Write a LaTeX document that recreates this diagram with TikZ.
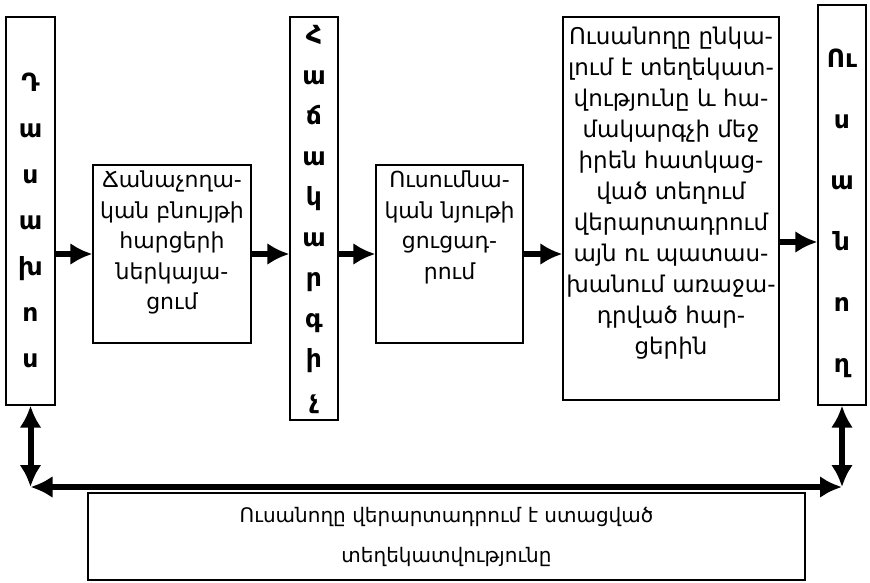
\documentclass[tikz,border=0pt]{standalone}
\usepackage{fontspec}
\setmainfont{DejaVu Sans}
\usepackage{tikz}
\usetikzlibrary{arrows.meta,positioning}
\tikzset{
  box/.style={draw,line width=1.2pt,inner sep=0pt},
  txt/.style={align=center,font=\fontsize{22}{30.5}\selectfont},
  col/.style={align=center,font=\bfseries\fontsize{25}{#1}\selectfont},
  tip/.style={-{Latex[length=22pt,width=22pt]}},
  flow/.style={tip,line width=6pt},
  both/.style={{Latex[length=22pt,width=22pt]}-{Latex[length=22pt,width=22pt]},line width=6pt}
}

\begin{document}
\begin{tikzpicture}[x=1pt,y=-1pt]
            \useasboundingbox (0,0) rectangle (870,582);
            % columns
            \node[box,minimum width=49pt,minimum height=388pt] (lect) at (30.5,211) {};
            \node[col=46,yshift=-9pt] (lecttxt) at (lect.center) {Դ\\ա\\ս\\ա\\խ\\ո\\ս};
            \node[box,minimum width=48pt,minimum height=403pt] (pc) at (314,218.5) {};
            \node[col=40.5,yshift=-1pt] (pctxt) at (pc.center) {Հ\\ա\\ճ\\ա\\կ\\ա\\ր\\գ\\ի\\չ};
            \node[box,minimum width=48pt,minimum height=400pt] (stud) at (842,205) {};
            \node[col=61,yshift=-8pt] (studtxt) at (stud.center) {Ու\\ս\\ա\\ն\\ո\\ղ};
            % boxes
            \node[box,minimum width=158pt,minimum height=178pt] (quest) at (172,254) {};
            \node[txt,below=3pt of quest.north] (questtxt) {Ճանաչողա-\\կան բնույթի\\հարցերի\\ներկայա-\\ցում};
            \node[box,minimum width=147pt,minimum height=178pt] (demo) at (449.5,254) {};
            \node[txt,below=3pt of demo.north] (demotxt) {Ուսումնա-\\կան նյութի\\ցուցադ-\\րում};
            \node[box,minimum width=216pt,minimum height=383pt] (recv) at (671,208.5) {};
            \node[txt,font=\fontsize{23}{31}\selectfont,yshift=15pt] (recvtxt) at (recv.center) {Ուսանողը ընկա-\\լում է տեղեկատ-\\վությունը և հա-\\մակարգչի մեջ\\իրեն հատկաց-\\ված տեղում\\վերարտադրում\\այն ու պատաս-\\խանում առաջա-\\դրված հար-\\ցերին};
            \node[box,txt,font=\fontsize{20}{40}\selectfont,minimum width=717pt,minimum height=87pt] (repro) at (446.5,536.5) {Ուսանողը վերարտադրում է ստացված\\տեղեկատվությունը};
            % flow
            \draw[flow] (lect.east |- quest.west) -- (quest.west);
            \draw[flow] (quest.east) -- (pc.west |- quest.east);
            \draw[flow] (pc.east |- demo.west) -- (demo.west);
            \draw[flow] (demo.east) -- (recv.west |- demo.east);
            \draw[flow] (recv.east |- 0,242) -- (stud.west |- 0,242);
            % feedback
            \coordinate (cl) at (lect.south |- 0,487);
            \coordinate (cr) at (stud.south |- 0,487);
            \draw[both] (lect.south) -- (cl);
            \draw[both] (stud.south) -- (cr);
            \draw[both] (cl) -- (cr);
        \end{tikzpicture}
\end{document}
